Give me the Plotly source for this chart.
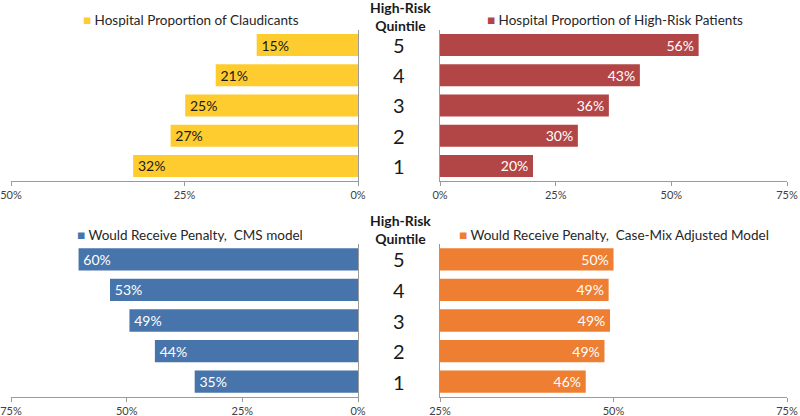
import plotly.graph_objects as go

W, H = 800, 416

quintiles = ["1", "2", "3", "4", "5"]

claudicants = [32.4, 27.0, 24.9, 20.5, 14.6]
claudicants_lbl = ["32%", "27%", "25%", "21%", "15%"]

high_risk = [20.1, 29.8, 36.5, 43.2, 55.9]
high_risk_lbl = ["20%", "30%", "36%", "43%", "56%"]

cms_penalty = [35.3, 43.9, 49.4, 53.6, 60.4]
cms_penalty_lbl = ["35%", "44%", "49%", "53%", "60%"]

casemix_penalty = [46.0, 48.7, 49.5, 49.3, 50.0]
casemix_penalty_lbl = ["46%", "49%", "49%", "49%", "50%"]

tick_top_left = [50, 25, 0]
tick_top_right = [0, 25, 50, 75]
tick_bot_left = [75, 50, 25, 0]
tick_bot_right = [25, 50, 75]

C_YEL = "#FECC2F"
C_RED = "#B24646"
C_BLU = "#4775AB"
C_ORA = "#EE7E32"

FONT = "Lato, 'Open Sans', sans-serif"


def px_x(a, b):
    return [a / W, b / W]


def px_y(top, bottom):
    return [1 - bottom / H, 1 - top / H]


fig = go.Figure()

panels = [
    ("x", "y", claudicants, claudicants_lbl, C_YEL, "#1a1a1a"),
    ("x2", "y2", high_risk, high_risk_lbl, C_RED, "white"),
    ("x3", "y3", cms_penalty, cms_penalty_lbl, C_BLU, "white"),
    ("x4", "y4", casemix_penalty, casemix_penalty_lbl, C_ORA, "white"),
]
for xa, ya, vals, lbls, col, tcol in panels:
    fig.add_trace(go.Bar(
        x=vals, y=quintiles, orientation="h", xaxis=xa, yaxis=ya,
        marker=dict(color=col, line=dict(width=0)),
        text=[f"\u2009{t}\u2009" for t in lbls], textposition="inside", insidetextanchor="end",
        textangle=0, textfont=dict(color=tcol, size=14, family=FONT),
        constraintext="none",
        showlegend=False, hoverinfo="x+y",
    ))

axis_common = dict(
    showgrid=False, zeroline=False, showline=True, linecolor="#9a9a9a",
    linewidth=1, ticks="outside", ticklen=4, tickcolor="#9a9a9a",
    tickfont=dict(size=11, color="#404040", family=FONT), automargin=False,
)
yaxis_common = dict(
    showgrid=False, zeroline=False, showline=True, linecolor="#9a9a9a",
    linewidth=1, ticks="", showticklabels=False, type="category",
    categoryorder="array", categoryarray=quintiles, range=[-0.5, 4.5],
    automargin=False,
)


def tick_cfg(vals):
    return dict(tickmode="array", tickvals=vals, ticktext=[f"{v}%" for v in vals])


fig.update_layout(
    width=W, height=H, margin=dict(l=0, r=0, t=0, b=0, autoexpand=False),
    paper_bgcolor="white", plot_bgcolor="white",
    bargap=0.27, font=dict(family=FONT),
    xaxis=dict(domain=px_x(11, 358), range=[50, 0], anchor="y", **tick_cfg(tick_top_left), **axis_common),
    yaxis=dict(domain=px_y(30, 181), anchor="x", side="right", **yaxis_common),
    xaxis2=dict(domain=px_x(440, 787), range=[0, 75], anchor="y2", **tick_cfg(tick_top_right), **axis_common),
    yaxis2=dict(domain=px_y(30, 181), anchor="x2", side="left", **yaxis_common),
    xaxis3=dict(domain=px_x(11, 358), range=[75, 0], anchor="y3", **tick_cfg(tick_bot_left), **axis_common),
    yaxis3=dict(domain=px_y(244, 397), anchor="x3", side="right", **yaxis_common),
    xaxis4=dict(domain=px_x(440, 787), range=[25, 75], anchor="y4", **tick_cfg(tick_bot_right), **axis_common),
    yaxis4=dict(domain=px_y(244, 397), anchor="x4", side="left", **yaxis_common),
)

legends = [
    (191, 20, C_YEL, "Hospital Proportion of Claudicants"),
    (615, 20, C_RED, "Hospital Proportion of High-Risk Patients"),
    (190, 235, C_BLU, "Would Receive Penalty,  CMS model"),
    (614, 235, C_ORA, "Would Receive Penalty,  Case-Mix Adjusted Model"),
]
for cx, cy, col, txt in legends:
    fig.add_annotation(
        x=cx / W, y=1 - cy / H, xref="paper", yref="paper", showarrow=False,
        text=f"<span style='color:{col}'>■</span> {txt}",
        font=dict(size=13.5, color="#262626", family=FONT),
        xanchor="center", yanchor="middle",
    )

for cy, yref in [(17, "y"), (229, "y3")]:
    fig.add_annotation(
        x=400 / W, y=1 - cy / H, xref="paper", yref="paper", showarrow=False,
        text="<b>High-Risk<br>Quintile</b>",
        font=dict(size=14, color="#1a1a1a", family=FONT),
        xanchor="center", yanchor="middle",
    )
    for i, q in enumerate(quintiles):
        fig.add_annotation(
            x=399 / W, y=i, xref="paper", yref=yref, showarrow=False,
            text=q, font=dict(size=20, color="#1a1a1a", family=FONT),
            xanchor="center", yanchor="middle",
        )

fig.write_html("out.html", config={"displayModeBar": False},
               post_script="document.body.style.margin='0';")
